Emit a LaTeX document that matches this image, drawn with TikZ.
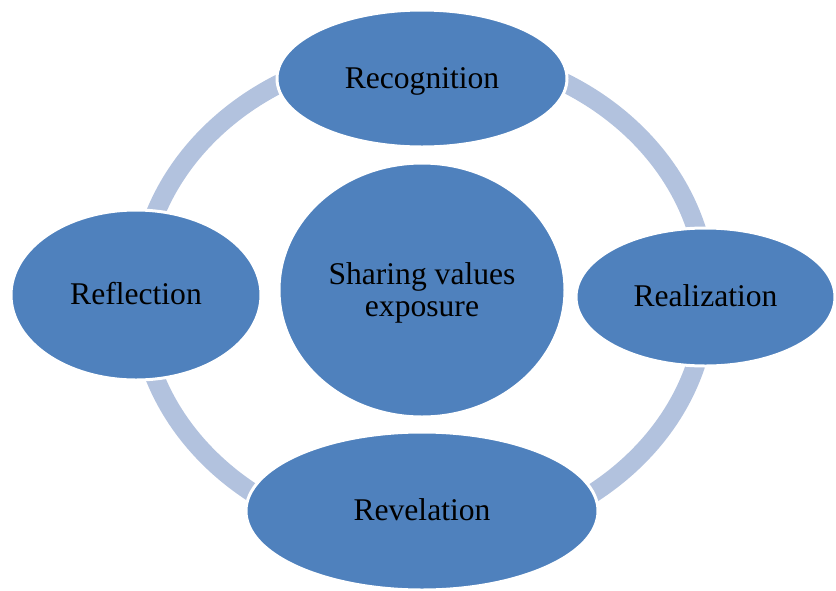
\documentclass[tikz,border=0pt]{standalone}
\usepackage{fontspec}
\setmainfont{Liberation Serif}
\usetikzlibrary{shapes.geometric}
\definecolor{nodeblue}{RGB}{79,129,189}
\definecolor{ringblue}{RGB}{178,194,222}
\tikzset{
  bubble/.style={ellipse, fill=nodeblue, draw=white, line width=3pt, inner sep=0pt,
    align=center, text=black, font=\fontsize{31.6}{32}\selectfont},
  oneline/.style={text height=19pt, text depth=0pt},
  ringstyle/.style={ellipse, draw=ringblue, line width=19pt, inner sep=0pt}
}
\begin{document}
\begin{tikzpicture}[x=1pt,y=-1pt]
\useasboundingbox (0,0) rectangle (836,590);
\node[ringstyle, minimum width=568pt, minimum height=492pt] (ring) at (423,296) {};
\node[bubble, minimum width=286pt, minimum height=254pt] (center) at (422,290)
  {\raisebox{6pt}[0pt][0pt]{\begin{tabular}[t]{@{}c@{}}Sharing values\\exposure\end{tabular}}};
\node[bubble, oneline, minimum width=290pt, minimum height=137pt] (recognition) at (422,78.5) {Recognition};
\node[bubble, oneline, minimum width=259pt, minimum height=138pt] (realization) at (705.5,297) {Realization};
\node[bubble, oneline, minimum width=352pt, minimum height=158pt] (revelation) at (422,511) {Revelation};
\node[bubble, oneline, minimum width=250pt, minimum height=170pt] (reflection) at (136,295) {Reflection};
\end{tikzpicture}
\end{document}
